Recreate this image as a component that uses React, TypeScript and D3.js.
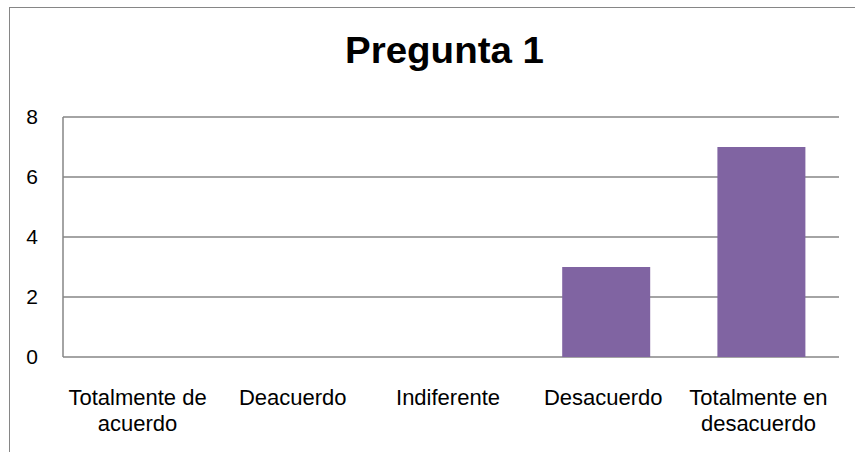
import React from 'react';
import * as d3 from 'd3';

const categories = [
  ['Totalmente de', 'acuerdo'],
  ['Deacuerdo'],
  ['Indiferente'],
  ['Desacuerdo'],
  ['Totalmente en', 'desacuerdo'],
];
const values = [0, 0, 0, 3, 7];
const yTicks = [0, 2, 4, 6, 8];
const title = 'Pregunta 1';

const W = 855;
const H = 452;
const plot = { left: 63, right: 839, top: 117, bottom: 357 };
const font = '"Liberation Sans", Arial, sans-serif';
const grid = '#868686';

export default function App() {
  const x = d3.scaleBand<number>()
    .domain(d3.range(categories.length))
    .range([plot.left, plot.right])
    .paddingInner(0.433)
    .paddingOuter(0.2165);
  const y = d3.scaleLinear().domain([0, 8]).range([plot.bottom, plot.top]);
  const bw = x.bandwidth();
  const center = (i: number) => (x(i) ?? 0) + bw / 2;

  return (
    <svg width={W} height={H} style={{ position: 'absolute', left: 0, top: 0, background: '#fff' }}>
      <rect x={9.5} y={7.5} width={900} height={500} fill="#fff" stroke={grid} strokeWidth={1} />
      <text x={444.5} y={63} textAnchor="middle" fontFamily={font} fontWeight="bold" fontSize={36}
        textLength={199} lengthAdjust="spacingAndGlyphs" fill="#000">
        {title}
      </text>

      {yTicks.map(t => (
        <g key={t}>
          <line x1={plot.left} x2={plot.right} y1={y(t)} y2={y(t)} stroke={grid} strokeWidth={1.5} />
          <text x={38} y={y(t)} dy="0.35em" textAnchor="end" fontFamily={font} fontSize={21} fill="#000">
            {t}
          </text>
        </g>
      ))}
      <line x1={plot.left} x2={plot.left} y1={plot.top} y2={plot.bottom} stroke={grid} strokeWidth={1.5} />

      {values.map((v, i) => v > 0 && (
        <rect key={i} x={x(i)} y={y(v)} width={bw} height={y(0) - y(v)} fill="#8064A2" />
      ))}

      {categories.map((lines, i) => (
        <text key={i} textAnchor="middle" fontFamily={font} fontSize={22} fill="#000">
          {lines.map((l, j) => (
            <tspan key={j} x={center(i) - 3} y={405 + j * 26}>{l}</tspan>
          ))}
        </text>
      ))}
    </svg>
  );
}
